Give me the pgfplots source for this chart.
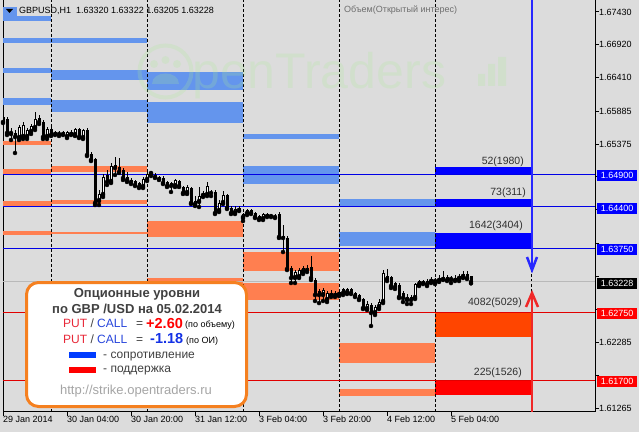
\documentclass[border=0pt]{standalone}
\usepackage{fontspec}
\setmainfont{Liberation Sans}
\usepackage{pgfplots}
\pgfplotsset{compat=1.18}
\usepackage{pgfplotstable}

\definecolor{bg}{RGB}{220,220,220}
\definecolor{cfblue}{RGB}{100,149,237}
\definecolor{coral}{RGB}{255,127,80}
\definecolor{orred}{RGB}{255,69,0}
\definecolor{lvlblue}{RGB}{0,0,230}
\definecolor{lvlred}{RGB}{225,0,0}
\definecolor{curgray}{RGB}{185,185,185}
\definecolor{txtdark}{RGB}{64,64,64}
\definecolor{putred}{RGB}{232,40,56}
\definecolor{callblue}{RGB}{40,70,220}
\definecolor{minusblue}{RGB}{20,50,230}
\definecolor{swblue}{RGB}{0,60,255}
\definecolor{urlgray}{RGB}{165,165,165}
\definecolor{lgorange}{RGB}{245,128,32}
\definecolor{wmgreen}{RGB}{170,235,150}
\definecolor{arrblue}{RGB}{40,40,255}
\definecolor{arrred}{RGB}{240,40,40}
\definecolor{lbltxt}{RGB}{48,48,48}

\pgfplotstableread{
x o h l c
0 1.65795 1.65827 1.65702 1.65718
1 1.65764 1.65795 1.65515 1.65546
2 1.65531 1.65624 1.65437 1.65562
3 1.65546 1.65593 1.65235 1.65484
4 1.65468 1.65671 1.65437 1.65640
5 1.65484 1.65718 1.65453 1.65671
6 1.65484 1.65624 1.65453 1.65593
7 1.65562 1.65686 1.65531 1.65655
8 1.65624 1.65873 1.65593 1.65764
9 1.65780 1.65827 1.65686 1.65718
10 1.65718 1.65749 1.65453 1.65484
11 1.65484 1.65640 1.65453 1.65609
12 1.65609 1.65640 1.65500 1.65515
13 1.65562 1.65577 1.65515 1.65531
14 1.65546 1.65577 1.65500 1.65531
15 1.65562 1.65577 1.65515 1.65531
16 1.65484 1.65577 1.65468 1.65562
17 1.65562 1.65593 1.65515 1.65531
18 1.65515 1.65624 1.65500 1.65609
19 1.65609 1.65624 1.65468 1.65484
20 1.65468 1.65609 1.65453 1.65593
21 1.65593 1.65624 1.65188 1.65204
22 1.65219 1.65250 1.65110 1.65126
23 1.65141 1.65157 1.64425 1.64456
24 1.64488 1.64659 1.64425 1.64597
25 1.64581 1.64908 1.64550 1.64861
26 1.64893 1.64970 1.64737 1.64784
27 1.64784 1.65079 1.64768 1.65032
28 1.65048 1.65173 1.64893 1.65001
29 1.65017 1.65157 1.64924 1.64939
30 1.64970 1.65001 1.64815 1.64846
31 1.64861 1.64939 1.64784 1.64815
32 1.64815 1.64846 1.64752 1.64784
33 1.64799 1.64815 1.64721 1.64737
34 1.64768 1.64784 1.64690 1.64706
35 1.64706 1.64861 1.64690 1.64830
36 1.64815 1.64939 1.64799 1.64908
37 1.64908 1.64955 1.64877 1.64924
38 1.64893 1.64924 1.64846 1.64861
39 1.64861 1.64877 1.64815 1.64830
40 1.64846 1.64877 1.64752 1.64768
41 1.64784 1.64799 1.64706 1.64721
42 1.64768 1.64784 1.64628 1.64721
43 1.64721 1.64830 1.64706 1.64815
44 1.64799 1.64815 1.64706 1.64721
45 1.64706 1.64721 1.64597 1.64612
46 1.64612 1.64737 1.64597 1.64706
47 1.64690 1.64706 1.64441 1.64456
48 1.64425 1.64565 1.64410 1.64488
49 1.64472 1.64706 1.64394 1.64565
50 1.64565 1.64643 1.64550 1.64612
51 1.64581 1.64784 1.64565 1.64721
52 1.64628 1.64659 1.64565 1.64612
53 1.64628 1.64659 1.64285 1.64301
54 1.64332 1.64503 1.64316 1.64456
55 1.64456 1.64643 1.64441 1.64581
56 1.64581 1.64597 1.64363 1.64378
57 1.64378 1.64410 1.64285 1.64301
58 1.64301 1.64410 1.64285 1.64363
59 1.64378 1.64410 1.64332 1.64347
60 1.64223 1.64301 1.64176 1.64285
61 1.64285 1.64363 1.64269 1.64347
62 1.64347 1.64363 1.64285 1.64301
63 1.64301 1.64316 1.64223 1.64238
64 1.64254 1.64269 1.64192 1.64207
65 1.64207 1.64301 1.64192 1.64285
66 1.64285 1.64301 1.64238 1.64254
67 1.64269 1.64285 1.64238 1.64254
68 1.64254 1.64285 1.64223 1.64238
69 1.64285 1.64316 1.63912 1.63927
70 1.63943 1.64114 1.63693 1.63912
71 1.63912 1.63943 1.63413 1.63429
72 1.63445 1.63476 1.63211 1.63289
73 1.63289 1.63413 1.63211 1.63382
74 1.63304 1.63445 1.63289 1.63413
75 1.63382 1.63476 1.63351 1.63445
76 1.63445 1.63491 1.63382 1.63413
77 1.63460 1.63631 1.63258 1.63289
78 1.63258 1.63289 1.62931 1.63024
79 1.63086 1.63118 1.62899 1.63024
80 1.63024 1.63133 1.62931 1.63102
81 1.62946 1.63086 1.62915 1.63055
82 1.63055 1.63102 1.62993 1.63024
83 1.63055 1.63086 1.62993 1.63024
84 1.63024 1.63102 1.63008 1.63071
85 1.63118 1.63133 1.63024 1.63055
86 1.63055 1.63133 1.63040 1.63118
87 1.63118 1.63133 1.63040 1.63055
88 1.63055 1.63071 1.62993 1.63008
89 1.63024 1.63040 1.62946 1.62962
90 1.62962 1.62977 1.62806 1.62822
91 1.62806 1.62931 1.62790 1.62884
92 1.62868 1.62899 1.62542 1.62744
93 1.62744 1.62868 1.62713 1.62837
94 1.62837 1.62962 1.62806 1.62915
95 1.62915 1.63413 1.62899 1.63367
96 1.63320 1.63429 1.63242 1.63273
97 1.63304 1.63320 1.63133 1.63164
98 1.63211 1.63227 1.63118 1.63149
99 1.63180 1.63211 1.62977 1.62993
100 1.63055 1.63086 1.62915 1.62977
101 1.62946 1.63040 1.62884 1.62993
102 1.62993 1.63024 1.62884 1.62946
103 1.62977 1.63211 1.62962 1.63195
104 1.63180 1.63258 1.63164 1.63242
105 1.63242 1.63258 1.63195 1.63211
106 1.63180 1.63273 1.63164 1.63242
107 1.63227 1.63304 1.63211 1.63273
108 1.63227 1.63289 1.63195 1.63258
109 1.63242 1.63336 1.63227 1.63289
110 1.63304 1.63398 1.63258 1.63273
111 1.63304 1.63336 1.63242 1.63258
112 1.63258 1.63320 1.63211 1.63289
113 1.63289 1.63336 1.63242 1.63258
114 1.63273 1.63351 1.63242 1.63320
115 1.63304 1.63398 1.63289 1.63351
116 1.63351 1.63398 1.63273 1.63289
117 1.63320 1.63322 1.63205 1.63228
}\candles

\newcommand\lev[5]{\addplot[fill=#1,draw=none,forget plot] coordinates {(#2,#4) (#3,#4) (#3,#5) (#2,#5)};}
\newcommand\vsep[1]{\addplot[black,line width=1pt,dash pattern=on 3pt off 2pt,forget plot] coordinates {(#1,1.61203) (#1,1.67617)};}

\begin{document}
\begin{tikzpicture}
\useasboundingbox (0,0) rectangle (639pt,432pt);
\fill[bg] (0,0) rectangle (639pt,432pt);
\begin{axis}[
  at={(3pt,20pt)}, anchor=south west,
  scale only axis, width=592pt, height=412pt,
  xmin=0, xmax=148, ymin=1.61203, ymax=1.67617,
  axis line style={black, line width=1pt},
  xtick={0,16,32,48,64,80,96,112},
  xticklabels={29 Jan 2014,30 Jan 04:00,30 Jan 20:00,31 Jan 12:00,3 Feb 04:00,3 Feb 20:00,4 Feb 12:00,5 Feb 04:00},
  ytick={1.67430,1.66920,1.66410,1.65885,1.65375,1.64865,1.64350,1.63830,1.63320,1.62800,1.62285,1.61775,1.61265},
  yticklabels={1.67430,1.66920,1.66410,1.65885,1.65375,,,,,,1.62285,,1.61265},
  xtick pos=left, ytick pos=right, yticklabel pos=right,
  tick align=outside, major tick length=4pt,
  tick style={black, line width=1pt},
  tick label style={font=\fontsize{9}{10}\selectfont, inner sep=0pt},
  xticklabel style={anchor=north west},
  yticklabel style={anchor=west},
  clip=true,
]
% option levels, 29 Jan
\lev{cfblue}{0}{12}{1.67368}{1.67290}
\lev{cfblue}{0}{12}{1.67025}{1.66948}
\lev{cfblue}{0}{12}{1.66558}{1.66480}
\lev{cfblue}{0}{12}{1.66091}{1.65982}
\lev{coral}{0}{12}{1.65422}{1.65359}
\lev{coral}{0}{12}{1.64986}{1.64893}
\lev{coral}{0}{12}{1.64488}{1.64410}
\lev{coral}{0}{12}{1.64021}{1.63958}
% 30 Jan
\lev{cfblue}{12}{36}{1.67025}{1.66948}
\lev{cfblue}{12}{36}{1.66527}{1.66372}
\lev{cfblue}{12}{36}{1.66060}{1.65873}
\lev{coral}{12}{36}{1.65032}{1.64939}
\lev{coral}{12}{36}{1.64503}{1.64441}
\lev{coral}{12}{36}{1.64005}{1.63974}
% 31 Jan
\lev{cfblue}{36}{60}{1.66496}{1.66216}
\lev{cfblue}{36}{60}{1.66029}{1.65702}
\lev{coral}{36}{60}{1.64176}{1.63927}
\lev{coral}{36}{60}{1.63289}{1.63071}
% 3 Feb
\lev{cfblue}{60}{84}{1.65531}{1.65453}
\lev{cfblue}{60}{84}{1.65032}{1.64752}
\lev{coral}{60}{84}{1.63693}{1.63398}
\lev{coral}{60}{84}{1.63211}{1.62946}
% 4 Feb
\lev{cfblue}{84}{108}{1.64519}{1.64394}
\lev{cfblue}{84}{108}{1.64005}{1.63787}
\lev{coral}{84}{108}{1.62277}{1.61966}
\lev{coral}{84}{108}{1.61560}{1.61452}
% 5 Feb
\lev{blue}{108}{132}{1.65017}{1.64900}
\lev{blue}{108}{132}{1.64519}{1.64400}
\lev{blue}{108}{132}{1.63989}{1.63750}
\lev{orred}{108}{132}{1.62750}{1.62370}
\lev{red}{108}{132}{1.61700}{1.61467}
% day separators
\vsep{12}\vsep{36}\vsep{60}\vsep{84}\vsep{108}\vsep{132}
% strike lines
\addplot[lvlblue,line width=1pt,forget plot] coordinates {(0,1.649) (148,1.649)};
\addplot[lvlblue,line width=1pt,forget plot] coordinates {(0,1.644) (148,1.644)};
\addplot[lvlblue,line width=1pt,forget plot] coordinates {(0,1.6375) (148,1.6375)};
\addplot[lvlred,line width=1pt,forget plot] coordinates {(0,1.6275) (148,1.6275)};
\addplot[lvlred,line width=1pt,forget plot] coordinates {(0,1.617) (148,1.617)};
\addplot[curgray,line width=1pt,forget plot] coordinates {(0,1.63228) (148,1.63228)};
% candles: wicks
\addplot[only marks, mark=none, forget plot,
  error bars/.cd, y dir=plus, y explicit, error mark=none,
  error bar style={draw=black, line width=1pt}]
  table[x=x, y=l, y error plus expr={\thisrow{h}-\thisrow{l}}] {\candles};
% bodies
\addplot[only marks, mark=none, forget plot,
  error bars/.cd, y dir=plus, y explicit, error mark=none,
  error bar style={draw=black, line width=3pt}]
  table[x=x, y expr={min(\thisrow{o},\thisrow{c})}, y error plus expr={max(abs(\thisrow{c}-\thisrow{o}),0.00016)}] {\candles};
% hollow (rising) bodies
\addplot[only marks, mark=none, forget plot,
  error bars/.cd, y dir=plus, y explicit, error mark=none,
  error bar style={draw=white, line width=1pt}]
  table[x=x, y expr={\thisrow{c}>\thisrow{o} ? \thisrow{o}+0.00016 : 1.5}, y error plus expr={\thisrow{c}>\thisrow{o} ? max(\thisrow{c}-\thisrow{o}-0.00032,0) : 0}] {\candles};
\end{axis}

\begin{scope}[x=1pt,y=-1pt,shift={(0pt,432pt)}]
% watermark
\begin{scope}[opacity=0.22]
\draw[wmgreen,line width=4pt] (165.5,71.5) circle (26);
\fill[wmgreen] (154,64) circle (4) (165.5,60) circle (4) (177,64) circle (4);
\fill[wmgreen] (152,84) .. controls (152,70) and (179,70) .. (179,84) -- cycle;
\node[anchor=base west,inner sep=0pt,text=wmgreen,font=\fontsize{50}{50}\selectfont] at (192,88) {penTraders};
\fill[wmgreen] (478,74) rectangle (485,86) (488,64) rectangle (495,86) (498,57) rectangle (506,86);
\end{scope}
% header
\fill[cfblue] (3,7) rectangle (17,16);
\fill[black] (6,9) -- (13,9) -- (9.5,13) -- cycle;
\node[anchor=west,inner sep=0pt,font=\fontsize{9}{10}\selectfont] at (19,11) {GBPUSD,H1\ \ 1.63320 1.63322 1.63205 1.63228};
\node[anchor=west,inner sep=0pt,text={rgb,255:red,110;green,110;blue,110},font=\fontsize{9}{10}\selectfont] at (344,10) {Объем(Открытый интерес)};
% volume labels
\begin{scope}[every node/.style={anchor=east,inner sep=0pt,text=lbltxt,font=\fontsize{10.5}{11}\selectfont}]
\node at (524,162) {52(1980)};
\node at (526,192.5) {73(311)};
\node at (523,226) {1642(3404)};
\node at (522,303) {4082(5029)};
\node at (522,373) {225(1526)};
\end{scope}
% arrows
\draw[arrblue,line width=2.5pt] (532,0) -- (532,270);
\draw[arrblue,line width=2.5pt,line join=miter] (527,257) -- (532,270) -- (537,257);
\draw[arrred,line width=2.5pt] (532,293) -- (532,412);
\draw[arrred,line width=2.5pt,line join=miter] (526,307) -- (532,293) -- (538,307);
% price boxes
\begin{scope}[every node/.style={anchor=west,inner sep=0pt,minimum width=40pt,minimum height=11pt,text=white,font=\fontsize{9}{10}\selectfont}]
\node[fill=blue] at (597,175) {1.64900};
\node[fill=blue] at (597,208) {1.64400};
\node[fill=blue] at (597,249) {1.63750};
\node[fill=black] at (597,283) {1.63228};
\node[fill=red] at (597,313) {1.62750};
\node[fill=red] at (597,381) {1.61700};
\end{scope}
% info box
\draw[line width=3pt,draw=lgorange,fill=white,rounded corners=12pt] (26.5,282.5) rectangle (246.5,406.5);
\node[anchor=base,inner sep=0pt,text=txtdark,font=\fontsize{13}{14}\selectfont\bfseries] at (137,297.5) {Опционные уровни};
\node[anchor=base,inner sep=0pt,text=txtdark,font=\fontsize{13}{14}\selectfont\bfseries] at (137,313) {по GBP /USD на 05.02.2014};
\begin{scope}[every node/.style={anchor=base west,inner sep=0pt,font=\fontsize{12}{13}\selectfont}]
\node at (63,327) {\textcolor{putred}{PUT} \textcolor{txtdark}{/} \textcolor{callblue}{CALL}};
\node[text=txtdark] at (136,327) {=};
\node[text=red,font=\fontsize{14.5}{15}\selectfont\bfseries] at (146,328) {+2.60};
\node[font=\fontsize{9}{10}\selectfont] at (185,327) {(по объему)};
\node at (63,343) {\textcolor{putred}{PUT} \textcolor{txtdark}{/} \textcolor{callblue}{CALL}};
\node[text=txtdark] at (136,343) {=};
\node[text=minusblue,font=\fontsize{14.5}{15}\selectfont\bfseries] at (150,343) {-1.18};
\node[font=\fontsize{9}{10}\selectfont] at (186,343) {(по ОИ)};
\node[text=txtdark] at (103,358.5) {- сопротивление};
\node[text=txtdark] at (103,372.5) {- поддержка};
\end{scope}
\fill[swblue] (69,352) rectangle (96,357.5);
\fill[red] (69,367) rectangle (96,372.5);
\node[anchor=base,inner sep=0pt,text=urlgray,font=\fontsize{13}{14}\selectfont] at (136,394) {http://strike.opentraders.ru};
\end{scope}
\end{tikzpicture}
\end{document}
